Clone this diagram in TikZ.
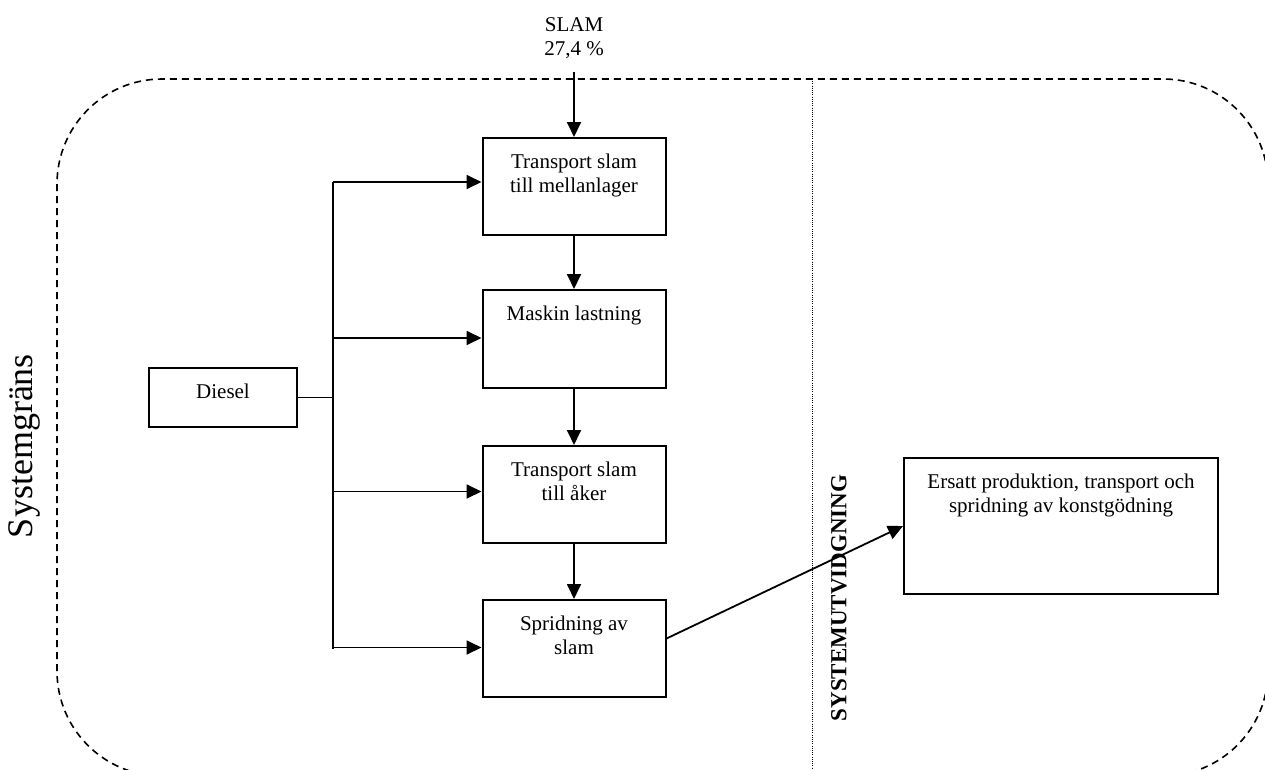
\documentclass[tikz,border=0pt]{standalone}
\usepackage{fontspec}
\setmainfont{Liberation Serif}
\usetikzlibrary{arrows.meta}
\begin{document}
\begin{tikzpicture}[x=1pt,y=-1pt,
  box/.style={draw, line width=2pt, inner sep=0pt},
  lbl/.style={anchor=north, inner sep=0pt, align=center, font=\fontsize{21}{24}\selectfont},
  conn/.style={line width=1.8pt},
  arr/.style={line width=1.8pt, -{Triangle[length=15pt,width=14pt]}},
  border/.style={line width=1.6pt, dash pattern=on 7pt off 5pt, rounded corners=105pt},
  ext/.style={line width=1pt, dash pattern=on 1pt off 1.2pt}]
\useasboundingbox (0,0) rectangle (1265,769);
\clip (0,0) rectangle (1265,769);

% system border
\draw[border] (57,79) rectangle (1268,776);
\coordinate (d1) at (812,79);
\coordinate (d2) at (812,769);
\draw[ext] (d1) -- (d2);

% labels of the borders
\node[rotate=90, inner sep=0pt, font=\fontsize{36}{40}\selectfont] (sg) at (24,446) {Systemgräns};
\node[rotate=90, inner sep=0pt, font=\bfseries\fontsize{23}{27}\selectfont] (su) at (839,598) {SYSTEMUTVIDGNING};

% process boxes
\node[box, minimum width=183pt, minimum height=97pt] (tr) at (574,186.5) {};
\node[box, minimum width=183pt, minimum height=98pt] (ml) at (574,339) {};
\node[box, minimum width=183pt, minimum height=97pt] (ta) at (574,494.5) {};
\node[box, minimum width=183pt, minimum height=97pt] (sp) at (574,648.5) {};
\node[box, minimum width=148pt, minimum height=59pt] (di) at (223,397.5) {};
\node[box, minimum width=314pt, minimum height=136pt] (er) at (1061,526) {};

\node[lbl] (trt) at ([yshift=-17pt]tr.north) {Transport slam\\till mellanlager};
\node[lbl] (mlt) at ([yshift=-17pt]ml.north) {Maskin lastning};
\node[lbl] (tat) at ([yshift=-17pt]ta.north) {Transport slam\\till åker};
\node[lbl] (spt) at ([yshift=-17pt]sp.north) {Spridning av\\slam};
\node[lbl] (dit) at ([yshift=-17pt]di.north) {Diesel};
\node[lbl] (ert) at ([yshift=-17pt]er.north) {Ersatt produktion, transport och\\spridning av konstgödning};

% SLAM input
\node[lbl] (slam) at (574,17) {SLAM\\27,4 \%};
\coordinate (slamin) at (574,72);
\draw[arr] (slamin) -- (tr.north);

% chain
\draw[arr] (tr.south) -- (ml.north);
\draw[arr] (ml.south) -- (ta.north);
\draw[arr] (ta.south) -- (sp.north);

% diesel distribution
\coordinate (j) at (333,397.5);
\coordinate (jt) at (333,182);
\draw[conn] (di.east) -- (j);
\draw[conn] (jt) -- (sp.west -| j);
\draw[arr] (jt) -- (jt -| tr.west);
\draw[arr] ([yshift=1pt]ml.west -| j) -- ([yshift=1pt]ml.west);
\draw[arr] ([yshift=3pt]ta.west -| j) -- ([yshift=3pt]ta.west);
\draw[arr] ([yshift=1pt]sp.west -| j) -- ([yshift=1pt]sp.west);

% system expansion
\draw[arr] ([yshift=10pt]sp.east) -- (er.west);
\end{tikzpicture}
\end{document}
